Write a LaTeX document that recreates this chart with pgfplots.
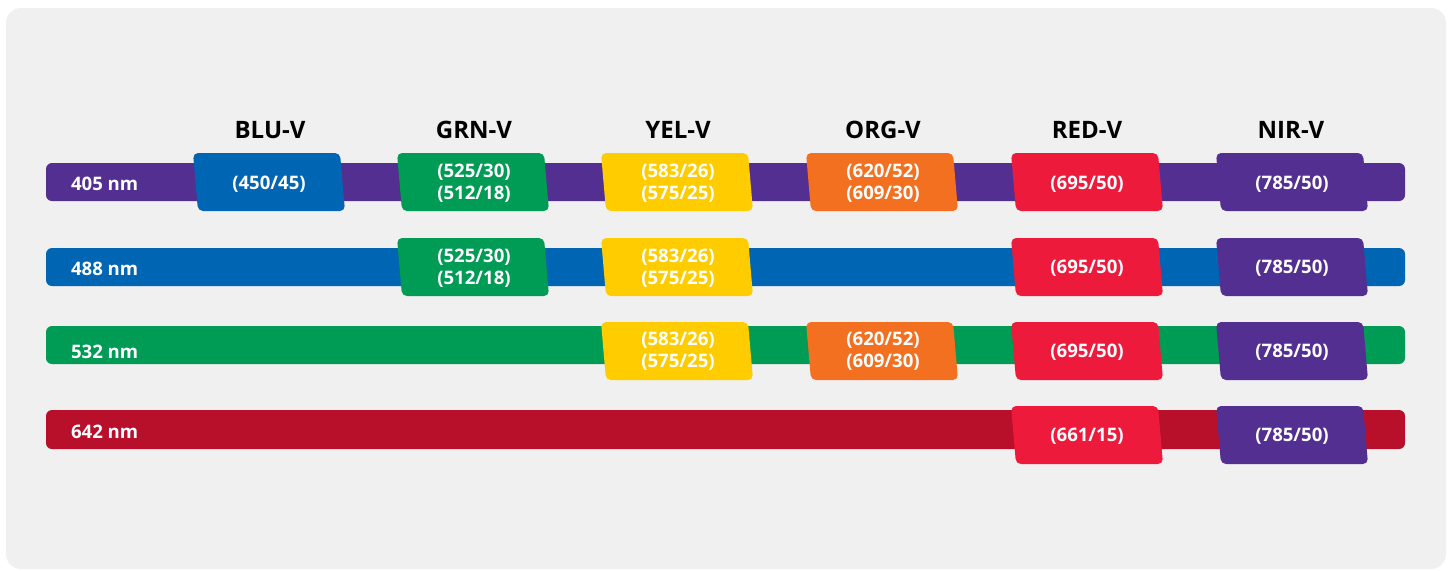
\documentclass[border=0pt]{standalone}
\usepackage{fontspec}
\setmainfont{Open Sans}
\usepackage{pgfplots}
\pgfplotsset{compat=1.18}

\definecolor{panel}{HTML}{F0F0F0}
\definecolor{cpur}{HTML}{532F91}
\definecolor{cblu}{HTML}{0066B3}
\definecolor{cgrn}{HTML}{009B55}
\definecolor{cdred}{HTML}{B80F2A}
\definecolor{cyel}{HTML}{FFCC00}
\definecolor{corg}{HTML}{F37021}
\definecolor{cred}{HTML}{EE1A3C}

\begin{document}
\begin{tikzpicture}[
  lbl/.style={font=\bfseries\fontsize{9.3}{11}\selectfont,text=white,align=center},
  hdr/.style={font=\bfseries\fontsize{12}{14}\selectfont,text=black},
  bar/.style={draw=none,rounded corners=3pt},
  box/.style={draw=none,rounded corners=2.5pt}]
\begin{axis}[width=724.5pt,height=285pt,scale only axis,hide axis,clip=false,
  xmin=0,xmax=1449,ymin=0,ymax=570,y dir=reverse]
% background
\addplot[fill=white,draw=none] coordinates {(0,0)(1449,0)(1449,570)(0,570)} --cycle;
\addplot[fill=panel,draw=none,rounded corners=7.5pt] coordinates {(6,8)(1446,8)(1446,569)(6,569)} --cycle;
% laser lines
\addplot[bar,fill=cpur]  coordinates {(46,163)(1405,163)(1405,201)(46,201)} --cycle;
\addplot[bar,fill=cblu]  coordinates {(46,248)(1405,248)(1405,286)(46,286)} --cycle;
\addplot[bar,fill=cgrn]  coordinates {(46,326)(1405,326)(1405,364)(46,364)} --cycle;
\addplot[bar,fill=cdred] coordinates {(46,410)(1405,410)(1405,449)(46,449)} --cycle;
% row 405
\addplot[box,fill=cblu] coordinates {(193,153)(340,153)(345,211)(198,211)} --cycle;
\addplot[box,fill=cgrn] coordinates {(397,153)(544,153)(549,211)(402,211)} --cycle;
\addplot[box,fill=cyel] coordinates {(601,153)(748,153)(753,211)(606,211)} --cycle;
\addplot[box,fill=corg] coordinates {(806,153)(953,153)(958,211)(811,211)} --cycle;
\addplot[box,fill=cred] coordinates {(1011,153)(1158,153)(1163,211)(1016,211)} --cycle;
\addplot[box,fill=cpur] coordinates {(1216,153)(1363,153)(1368,211)(1221,211)} --cycle;
% row 488
\addplot[box,fill=cgrn] coordinates {(397,238)(544,238)(549,296)(402,296)} --cycle;
\addplot[box,fill=cyel] coordinates {(601,238)(748,238)(753,296)(606,296)} --cycle;
\addplot[box,fill=cred] coordinates {(1011,238)(1158,238)(1163,296)(1016,296)} --cycle;
\addplot[box,fill=cpur] coordinates {(1216,238)(1363,238)(1368,296)(1221,296)} --cycle;
% row 532
\addplot[box,fill=cyel] coordinates {(601,322)(748,322)(753,380)(606,380)} --cycle;
\addplot[box,fill=corg] coordinates {(806,322)(953,322)(958,380)(811,380)} --cycle;
\addplot[box,fill=cred] coordinates {(1011,322)(1158,322)(1163,380)(1016,380)} --cycle;
\addplot[box,fill=cpur] coordinates {(1216,322)(1363,322)(1368,380)(1221,380)} --cycle;
% row 642
\addplot[box,fill=cred] coordinates {(1011,406)(1158,406)(1163,464)(1016,464)} --cycle;
\addplot[box,fill=cpur] coordinates {(1216,406)(1363,406)(1368,464)(1221,464)} --cycle;

% headers
\node[hdr] at (axis cs:270,130) {BLU-V};
\node[hdr] at (axis cs:474,130) {GRN-V};
\node[hdr] at (axis cs:678,130) {YEL-V};
\node[hdr] at (axis cs:883,130) {ORG-V};
\node[hdr] at (axis cs:1087,130) {RED-V};
\node[hdr] at (axis cs:1291,130) {NIR-V};
% laser labels
\node[lbl,anchor=west] at (axis cs:64,184) {405 nm};
\node[lbl,anchor=west] at (axis cs:64,269) {488 nm};
\node[lbl,anchor=west] at (axis cs:64,352) {532 nm};
\node[lbl,anchor=west] at (axis cs:64,432) {642 nm};
% filter labels
\node[lbl] at (axis cs:269,184) {(450/45)};
\node[lbl] at (axis cs:474,183) {(525/30)\\(512/18)};
\node[lbl] at (axis cs:678,183) {(583/26)\\(575/25)};
\node[lbl] at (axis cs:883,183) {(620/52)\\(609/30)};
\node[lbl] at (axis cs:1087,184) {(695/50)};
\node[lbl] at (axis cs:1292,184) {(785/50)};

\node[lbl] at (axis cs:474,268) {(525/30)\\(512/18)};
\node[lbl] at (axis cs:678,268) {(583/26)\\(575/25)};
\node[lbl] at (axis cs:1087,268) {(695/50)};
\node[lbl] at (axis cs:1292,268) {(785/50)};

\node[lbl] at (axis cs:678,351) {(583/26)\\(575/25)};
\node[lbl] at (axis cs:883,351) {(620/52)\\(609/30)};
\node[lbl] at (axis cs:1087,352) {(695/50)};
\node[lbl] at (axis cs:1292,352) {(785/50)};

\node[lbl] at (axis cs:1087,436) {(661/15)};
\node[lbl] at (axis cs:1292,436) {(785/50)};
\end{axis}
\end{tikzpicture}
\end{document}
